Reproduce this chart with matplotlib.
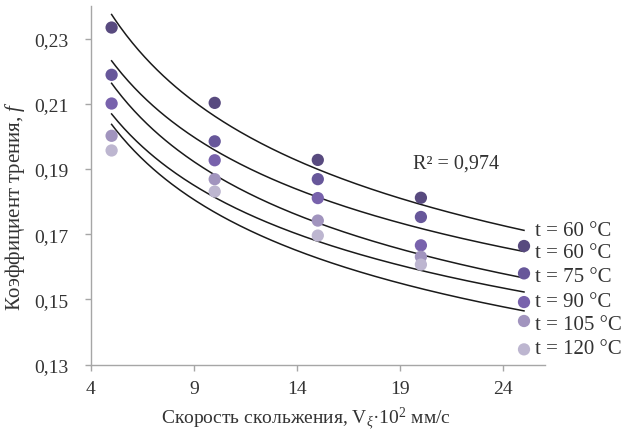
import numpy as np
import matplotlib
matplotlib.use("Agg")
import matplotlib.pyplot as plt

# ---- data ----
speed = [5, 10, 15, 20, 25]
f_60a = [0.2334, 0.2103, 0.1928, 0.1812, 0.1664]
f_75 = [0.2189, 0.1985, 0.1869, 0.1753, 0.1580]
f_90 = [0.2101, 0.1927, 0.1811, 0.1666, 0.1492]
f_105 = [0.2002, 0.1869, 0.1742, 0.1631, 0.1434]
f_120 = [0.1957, 0.1831, 0.1696, 0.1607, 0.1347]
series = [f_60a, f_75, f_90, f_105, f_120]
series_labels = ["t = 60 °C", "t = 75 °C", "t = 90 °C", "t = 105 °C", "t = 120 °C"]
colors = ["#584a7f", "#67579a", "#7862ac", "#a194be", "#bdb6d0"]

# power trendlines f = a * v^b
trend_start = [0.2374, 0.2232, 0.2163, 0.2069, 0.2037]   # at v = 5
trend_end = [0.1712, 0.1647, 0.1566, 0.1523, 0.1465]     # at v = 25
trend_labels = ["t = 60 °C"]
r2_text = "R² = 0,974"

xticks = [4, 9, 14, 19, 24]
yticks = [0.13, 0.15, 0.17, 0.19, 0.21, 0.23]

plt.rcParams["font.family"] = ["Liberation Serif", "DejaVu Serif"]
plt.rcParams["mathtext.fontset"] = "custom"
plt.rcParams["mathtext.rm"] = "Liberation Serif"
plt.rcParams["mathtext.it"] = "Liberation Serif:italic"

fig = plt.figure(figsize=(6.24, 4.39), dpi=100)
ax = fig.add_axes([0.1458, 0.167, 0.727, 0.817])

v0, v1 = speed[0], speed[-1]
xs = np.linspace(v0, v1, 200)
for s, e in zip(trend_start, trend_end):
    b = np.log(e / s) / np.log(v1 / v0)
    a = s / v0 ** b
    ax.plot(xs, a * xs ** b, color="#1a1a1a", lw=1.1, zorder=2)

for vals, c in zip(series, colors):
    ax.scatter(speed, vals, s=78, color=c, edgecolors="none", zorder=3)

ax.set_xlim(4, 26)
ax.set_ylim(0.13, 0.24)
ax.set_xticks(xticks)
ax.set_yticks(yticks)
ax.set_yticklabels([f"{t:.2f}".replace(".", ",") for t in yticks])
ax.set_xticklabels([str(t) for t in xticks])

for side in ["top", "right"]:
    ax.spines[side].set_visible(False)
for side in ["left", "bottom"]:
    ax.spines[side].set_color("#a6a6a6")
    ax.spines[side].set_linewidth(1.0)
ax.tick_params(axis="both", colors="#a6a6a6", labelcolor="#333333",
               labelsize=14, length=4, width=1.0)
ax.tick_params(axis="x", pad=7)
ax.tick_params(axis="y", pad=12)

ax.set_xlabel(r"Скорость скольжения, V$_{\xi}$·10$^{2}$ мм/с", fontsize=14,
              color="#333333")
ax.xaxis.set_label_coords(0.474, -0.112)
ax.set_ylabel(r"Коэффициент трения, $\mathit{f}$", fontsize=15,
              color="#333333")
ax.yaxis.set_label_coords(-0.141, 0.445)

ax.text(19.6, 0.1919, r2_text, fontsize=14.5, color="#333333", va="center")

# legend-style labels at the right
leg_x = 25.55
legend_text = trend_labels + series_labels
legend_y = [0.1712, 0.1643, 0.1570, 0.1493, 0.1424, 0.1350]
for t, y in zip(legend_text, legend_y):
    ax.text(leg_x, y, t, fontsize=15, color="#333333", va="center", clip_on=False)

fig.savefig("out.png", dpi=100)
